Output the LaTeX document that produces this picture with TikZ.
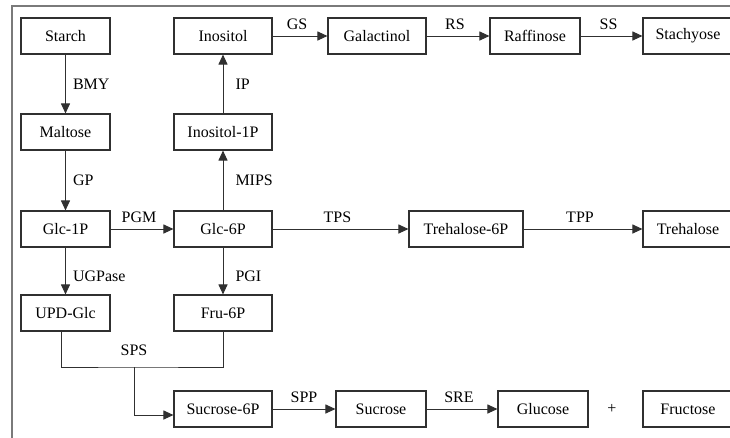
\documentclass[tikz,border=0pt]{standalone}
\usepackage{fontspec}
\setmainfont{Liberation Serif}
\usetikzlibrary{arrows.meta,positioning,calc}
\definecolor{ink}{HTML}{303030}
\definecolor{framegray}{HTML}{7A7A7A}
\tikzset{
  >={Triangle[length=10pt,width=9pt]},
  every node/.style={font=\fontsize{16}{19}\selectfont,text=black},
  box/.style={draw=ink,line width=1.1pt,fill=white,minimum height=36pt,minimum width=89pt,inner sep=2pt},
  widebox/.style={box,minimum width=98pt},
  arrow/.style={->,line width=1pt,draw=ink},
  link/.style={line width=1pt,draw=ink},
  enz/.style={inner sep=0pt},
}

\begin{document}
\begin{tikzpicture}[x=1pt,y=-1pt]
  \useasboundingbox (0,0) rectangle (730,437);
  \clip (0,0) rectangle (730,437);
  \draw[framegray,line width=1.2pt] (12,6) rectangle (760,470);
  % starch / sucrose column
  \node[box] (starch) at (65.5,36) {Starch};
  \node[box] (maltose) at (65.5,132) {Maltose};
  \node[box] (glc1p) at (65.5,229) {Glc-1P};
  \node[box] (updglc) at (65.5,313) {UPD-Glc};
  % hexose phosphate column
  \node[widebox] (inositol) at (223,36) {Inositol};
  \node[widebox] (inositol1p) at (223,132) {Inositol-1P};
  \node[widebox] (glc6p) at (223,229) {Glc-6P};
  \node[widebox] (fru6p) at (223,313) {Fru-6P};
  \node[widebox] (suc6p) at (223,409) {Sucrose-6P};
  % raffinose family
  \node[widebox] (galactinol) at (377,36) {Galactinol};
  \node[box,minimum width=90pt] (raffinose) at (535,36) {Raffinose};
  \node[box,minimum width=90pt] (stachyose) at (688,36) {Stachyose};
  % trehalose
  \node[box,minimum width=114pt] (treh6p) at (466,229) {Trehalose-6P};
  \node[box,minimum width=90pt] (trehalose) at (688,229) {Trehalose};
  % sucrose cleavage
  \node[box,minimum width=90pt] (sucrose) at (381,409) {Sucrose};
  \node[box,minimum width=90pt] (glucose) at (543,409) {Glucose};
  \node[enz] (plus) at (612,409) {+};
  \node[box,minimum width=90pt] (fructose) at (688,409) {Fructose};
  % vertical steps
  \draw[arrow] (starch) -- node[enz,right=7pt]{BMY} (maltose);
  \draw[arrow] (maltose) -- node[enz,right=7pt]{GP} (glc1p);
  \draw[arrow] (glc1p) -- node[enz,right=7pt,pos=0.62]{UGPase} (updglc);
  \draw[arrow] (glc6p) -- node[enz,right=12pt]{MIPS} (inositol1p);
  \draw[arrow] (inositol1p) -- node[enz,right=12pt]{IP} (inositol);
  \draw[arrow] (glc6p) -- node[enz,right=12pt,pos=0.62]{PGI} (fru6p);
  % horizontal steps
  \draw[arrow] (glc1p) -- node[enz,above=6pt,xshift=-3pt]{PGM} (glc6p);
  \draw[arrow] (inositol) -- node[enz,above=6pt,xshift=-3pt]{GS} (galactinol);
  \draw[arrow] (galactinol) -- node[enz,above=6pt,xshift=-3pt]{RS} (raffinose);
  \draw[arrow] (raffinose) -- node[enz,above=6pt,xshift=-3pt]{SS} (stachyose);
  \draw[arrow] (glc6p) -- node[enz,above=6pt,xshift=-3pt]{TPS} (treh6p);
  \draw[arrow] (treh6p) -- node[enz,above=6pt,xshift=-3pt]{TPP} (trehalose);
  \draw[arrow] (suc6p) -- node[enz,above=6pt]{SPP} (sucrose);
  \draw[arrow] (sucrose) -- node[enz,above=6pt,xshift=-3pt]{SRE} (glucose);
  % SPS join
  \coordinate (sps) at (134,367);
  \draw[link] ($(updglc.south)+(-4,0)$) |- (sps) -| (fru6p.south);
  \node[enz,above=11pt] (spslab) at (sps) {SPS};
  \draw[arrow] (sps) |- ($(suc6p.west)+(0,6)$);
\end{tikzpicture}
\end{document}
